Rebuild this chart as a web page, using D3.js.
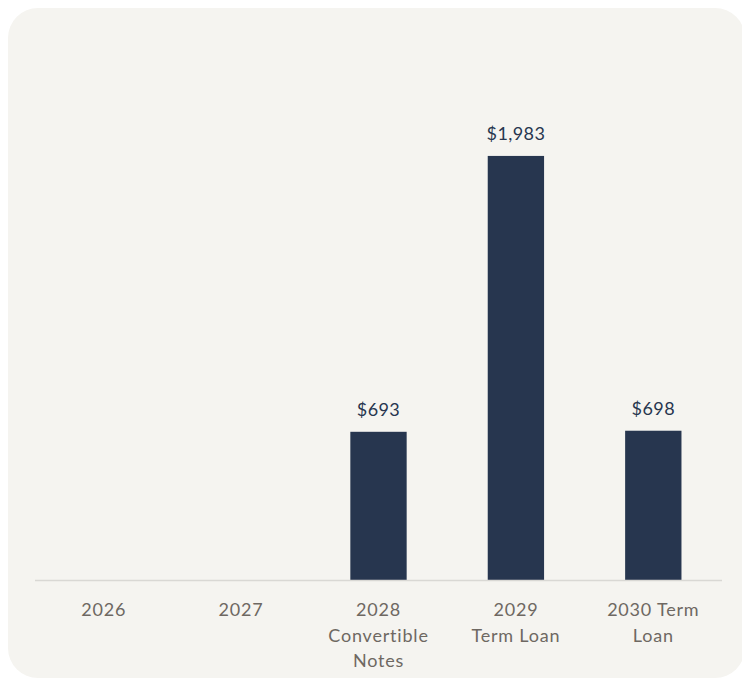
<!DOCTYPE html>
<html>
<head>
<meta charset="utf-8">
<script src="https://cdn.jsdelivr.net/npm/d3@7"></script>
<style>
  html, body { margin: 0; padding: 0; background: #fff; }
  svg { display: block; }
</style>
</head>
<body>
<svg id="chart" width="742" height="679"></svg>
<script>
// Data
var categories = ['2026', '2027', '2028', '2029', '2030'];
var catLines = [['2026'], ['2027'], ['2028', 'Convertible', 'Notes'], ['2029', 'Term Loan'], ['2030 Term', 'Loan']];
var values = [0, 0, 693, 1983, 698];
var valueLabels = ['', '', '$693', '$1,983', '$698'];

var BAR = '#27364F', PANEL = '#F5F4F0', AXIS_TXT = '#6E6862', LINE = '#D9D8D4';

var svg = d3.select('#chart');

// background card
svg.append('rect')
    .attr('x', 8).attr('y', 8)
    .attr('width', 737).attr('height', 670)
    .attr('rx', 30).attr('ry', 30)
    .attr('fill', PANEL);

var x = d3.scaleBand().domain(categories).range([35, 722]).paddingInner(0.59).paddingOuter(0.295);
var y = d3.scaleLinear().domain([0, 2000]).range([580, 152.3]);

// bars
svg.selectAll('rect.bar').data(values).enter().append('rect')
    .attr('class', 'bar')
    .attr('x', (d, i) => x(categories[i]))
    .attr('width', x.bandwidth())
    .attr('y', d => y(d))
    .attr('height', d => y(0) - y(d))
    .attr('fill', BAR);

// baseline
svg.append('line')
    .attr('x1', 35).attr('x2', 722)
    .attr('y1', y(0) + 0.5).attr('y2', y(0) + 0.5)
    .attr('stroke', LINE).attr('stroke-width', 1.5);

// value labels (skip the empty years)
values.forEach(function(v, i) {
    if (!v) return;
    svg.append('text')
        .attr('class', 'val')
        .attr('x', x(categories[i]) + x.bandwidth() / 2)
        .attr('y', y(v) - 16)
        .attr('text-anchor', 'middle')
        .style('font-family', 'Lato, sans-serif')
        .style('font-size', '18px')
        .style('letter-spacing', '0.4px')
        .attr('fill', BAR)
        .text(valueLabels[i]);
});

// category labels
var g = svg.selectAll('text.cat').data(catLines).enter().append('text')
    .attr('class', 'cat')
    .attr('text-anchor', 'middle')
    .style('font-family', 'Lato, sans-serif')
    .style('font-size', '18px')
    .style('letter-spacing', '0.8px')
    .attr('fill', AXIS_TXT);

g.each(function(lines, i) {
    var t = d3.select(this);
    lines.forEach(function(l, j) {
        t.append('tspan')
            .attr('x', x(categories[i]) + x.bandwidth() / 2)
            .attr('y', 616 + j * 25.5)
            .text(l);
    });
});
</script>
</body>
</html>
